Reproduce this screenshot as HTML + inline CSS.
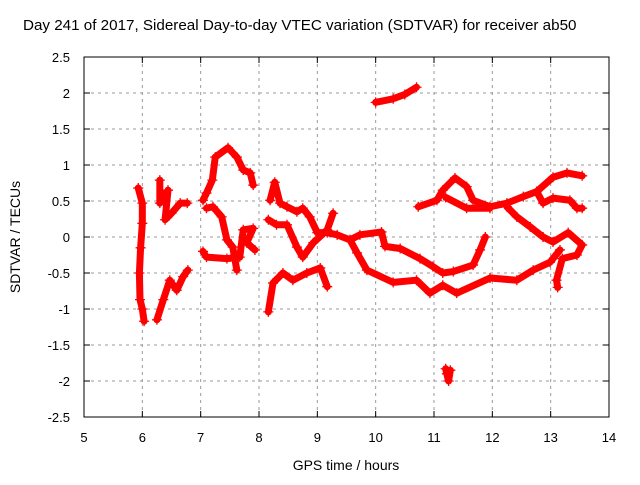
<!DOCTYPE html>
<html><head><meta charset="utf-8"><style>
body{margin:0;background:#fff}
svg text{font-family:"Liberation Sans",sans-serif;fill:#000}
</style></head><body>
<svg id="chart" width="640" height="480">
<text x="23" y="30" font-size="15.2">Day 241 of 2017, Sidereal Day-to-day VTEC variation (SDTVAR) for receiver ab50</text>
<text x="346" y="470" font-size="14" text-anchor="middle">GPS time / hours</text>
<text x="0" y="0" font-size="14" text-anchor="middle" transform="translate(20,237) rotate(-90)">SDTVAR / TECUs</text>
<g id="grid"></g>
<g id="ticks"></g>
<g id="marks"></g>
<rect x="84" y="57" width="525" height="360" fill="none" stroke="#000" stroke-width="1"/>
</svg>
<script>
const xTicks=[5,6,7,8,9,10,11,12,13,14];
const yTicks=[2.5,2,1.5,1,0.5,0,-0.5,-1,-1.5,-2,-2.5];
const yTickLabels=["2.5","2","1.5","1","0.5","0","-0.5","-1","-1.5","-2","-2.5"];
const segA=[[10.0,1.87],[10.3,1.92],[10.5,1.98],[10.7,2.08]];
const segB=[[8.19,0.51],[8.27,0.76],[8.36,0.47],[8.48,0.42],[8.65,0.35],[8.75,0.4],[8.87,0.28],[9.0,0.06],[9.17,0.06],[9.34,0.03],[9.56,-0.04],[9.68,-0.22],[9.85,-0.46],[10.3,-0.63],[10.7,-0.6],[10.93,-0.78],[11.15,-0.67],[11.39,-0.78],[11.96,-0.57],[12.42,-0.6],[12.7,-0.46],[12.99,-0.35],[13.16,-0.18]];
const segC=[[9.56,-0.04],[9.73,0.03],[10.1,0.07],[10.16,-0.13],[10.42,-0.16],[10.76,-0.3],[10.98,-0.41],[11.15,-0.5],[11.33,-0.48],[11.67,-0.39],[11.79,-0.18],[11.88,0.0]];
const segD=[[10.73,0.42],[11.05,0.51],[11.15,0.65],[11.36,0.82],[11.56,0.7],[11.67,0.51],[11.96,0.42],[12.25,0.47],[12.53,0.56],[12.76,0.63],[13.04,0.83],[13.28,0.89],[13.54,0.85]];
const segD2=[[11.2,0.55],[11.56,0.4],[11.96,0.4]];
const segE=[[12.25,0.42],[12.42,0.28],[12.65,0.14],[12.87,0.0],[13.04,-0.07],[13.3,0.06],[13.54,-0.11],[13.45,-0.25],[13.2,-0.3],[13.1,-0.6],[13.12,-0.7]];
const segF=[[12.76,0.63],[12.87,0.47],[13.04,0.54],[13.33,0.51],[13.45,0.4],[13.54,0.4]];
const segG=[[11.2,-1.83],[11.22,-1.9],[11.25,-2.0],[11.28,-1.85]];
const segH=[[5.93,0.68],[6.0,0.47],[6.0,0.19],[5.97,-0.15],[5.95,-0.5],[5.96,-0.87],[6.0,-1.0],[6.03,-1.17]];
const segI=[[6.3,0.79],[6.3,0.47],[6.44,0.65],[6.39,0.24],[6.5,0.33],[6.65,0.47],[6.77,0.47]];
const segJ=[[6.25,-1.15],[6.36,-0.87],[6.47,-0.6],[6.59,-0.74],[6.7,-0.55],[6.78,-0.46]];
const segK=[[7.04,0.51],[7.1,0.61],[7.2,0.79],[7.25,1.11],[7.47,1.24],[7.62,1.11],[7.73,0.93],[7.85,0.89],[7.9,0.72]];
const segL=[[7.1,0.4],[7.21,0.42],[7.36,0.28],[7.45,-0.04],[7.55,-0.14],[7.62,-0.46]];
const segM=[[7.04,-0.2],[7.1,-0.28],[7.45,-0.3],[7.67,-0.28],[7.73,0.1],[7.9,0.12],[7.79,-0.08],[7.93,-0.18]];
const segN=[[8.16,0.24],[8.3,0.17],[8.48,0.17],[8.65,-0.14],[8.75,-0.28],[8.93,-0.08],[9.17,0.1],[9.27,0.33]];
const segO=[[8.16,-1.04],[8.24,-0.64],[8.41,-0.5],[8.58,-0.6],[8.82,-0.5],[9.05,-0.43],[9.17,-0.69]];
const series=[segA,segB,segC,segD,segD2,segE,segF,segG,segH,segI,segJ,segK,segL,segM,segN,segO];
const X=h=>84+(h-5)*525/9;
const Y=v=>237-v*72;
const NS="http://www.w3.org/2000/svg";
function mk(t,a,p){const e=document.createElementNS(NS,t);for(const k in a)e.setAttribute(k,a[k]);p.appendChild(e);return e;}
const grid=document.getElementById('grid'),ticks=document.getElementById('ticks'),marks=document.getElementById('marks');
xTicks.forEach((t,i)=>{const x=X(t);
 if(i>0&&i<xTicks.length-1){const g=mk('line',{x1:x,x2:x,y1:57,y2:417,stroke:'#999','stroke-dasharray':'3,4'},grid);
 
 }
 mk('line',{x1:x,x2:x,y1:417,y2:411,stroke:'#000'},ticks);mk('line',{x1:x,x2:x,y1:57,y2:63,stroke:'#000'},ticks);
 const tx=mk('text',{x:x,y:442,'font-size':13,'text-anchor':'middle'},ticks);tx.textContent=t;
 
 });
yTicks.forEach((t,i)=>{const y=Y(t);
 if(i>0&&i<yTicks.length-1){const g=mk('line',{x1:84,x2:609,y1:y,y2:y,stroke:'#999','stroke-dasharray':'3,4'},grid);
 
 }
 mk('line',{x1:84,x2:90,y1:y,y2:y,stroke:'#000'},ticks);mk('line',{x1:609,x2:603,y1:y,y2:y,stroke:'#000'},ticks);
 const tx=mk('text',{x:70,y:y+5,'font-size':13,'text-anchor':'end'},ticks);tx.textContent=yTickLabels[i];
 
 });
series.forEach(s=>{
 const pl=mk('polyline',{points:s.map(p=>X(p[0])+','+Y(p[1])).join(' '),fill:'none',stroke:'#f00','stroke-width':7,'stroke-linejoin':'round','stroke-linecap':'round'},marks);
 
 
 s.forEach(p=>{const x=X(p[0]),y=Y(p[1]);
  const m=mk('path',{d:`M${x-5},${y}h10M${x},${y-5}v10`,stroke:'#f00','stroke-width':1.3},marks);
  
  });
});
</script>
</body></html>
